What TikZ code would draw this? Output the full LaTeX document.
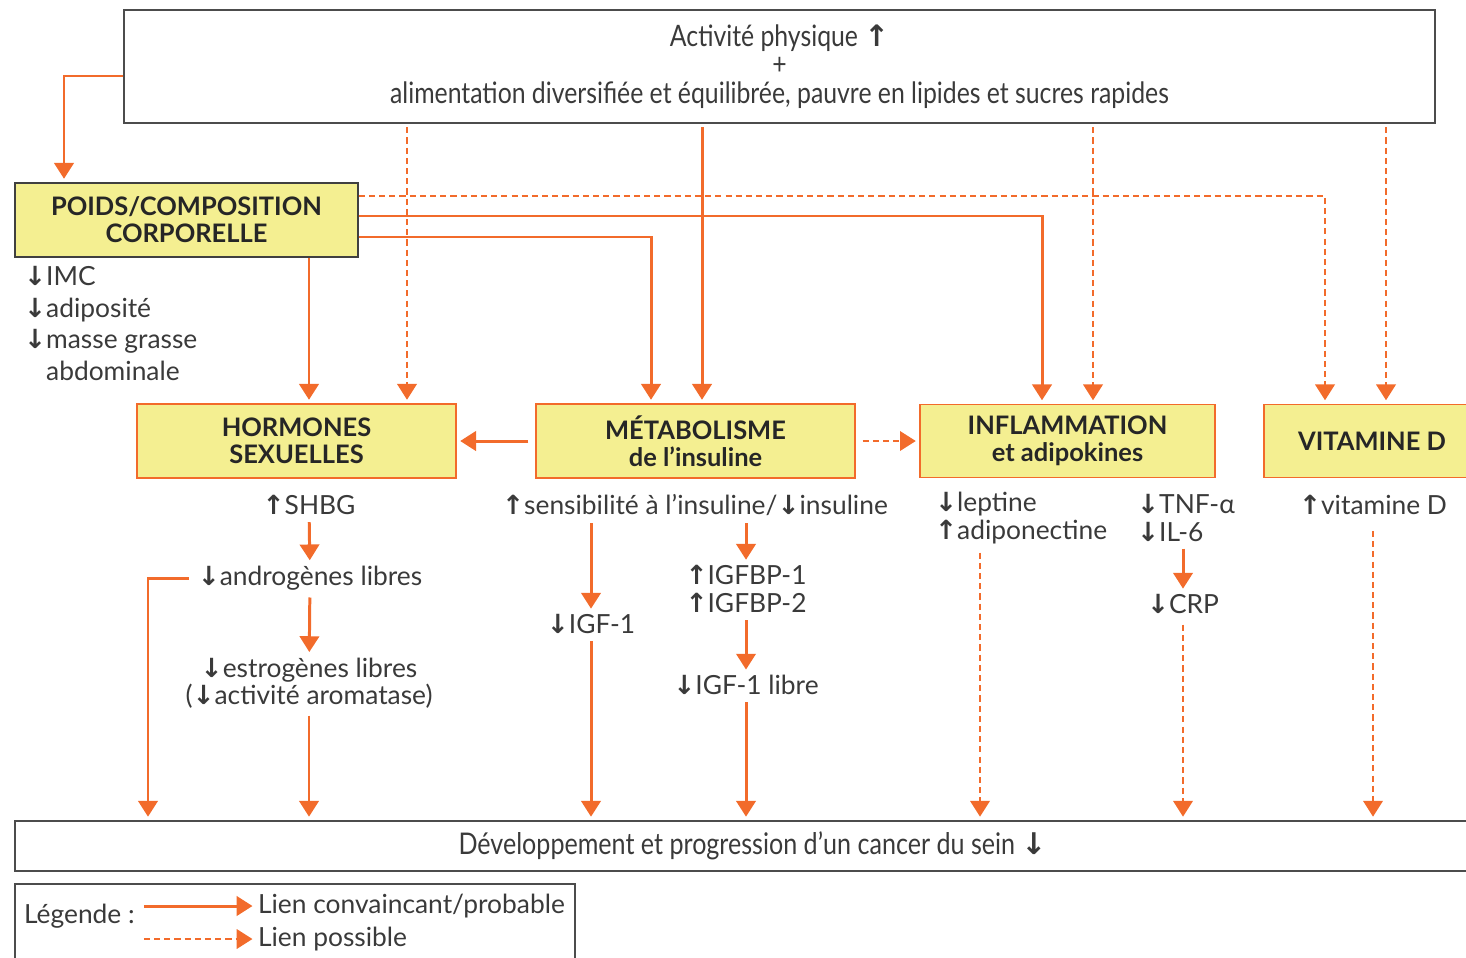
\documentclass[tikz,border=0pt]{standalone}
\usepackage{fontspec}
\setmainfont{Lato}
\newfontfamily\arrowfont{DejaVu Sans}
\newfontfamily\narrowfont[FakeStretch=0.84]{Lato}
\usetikzlibrary{arrows.meta}

\definecolor{lienorange}{HTML}{F26B2B}
\definecolor{boxjaune}{HTML}{F4EF91}
\definecolor{texte}{HTML}{3A3A3A}

\newcommand\hausse{{\arrowfont\bfseries ↑}}
\newcommand\baisse{{\arrowfont\bfseries ↓}}

\tikzset{
  link/.style={draw=lienorange, line width=1.7pt, -{Triangle[width=11pt,length=9pt]}, shorten >=2pt},
  maybe/.style={link, line width=1.5pt, dash pattern=on 3.5pt off 2.3pt},
  facteur/.style={draw=lienorange, fill=boxjaune, line width=0.8pt, font=\fontsize{14.5}{15.3}\selectfont\bfseries, text=black!85, align=center, inner sep=0pt},
  cadre/.style={draw=black!70, line width=0.9pt, inner sep=0pt, align=center, text=texte},
  effet/.style={text=texte, inner sep=1pt, align=center},
}

\begin{document}
\begin{tikzpicture}[x=0.02cm, y=-0.02cm, font=\fontsize{15}{17}\selectfont]
\useasboundingbox (0,0) rectangle (1466,957);

% boxes
\node[cadre, minimum width=26.22cm, minimum height=2.26cm, font=\narrowfont\fontsize{16.8}{16.2}\selectfont] (top) at (779.5,66.5)
  {Activité physique \hausse\\+\\alimentation diversifiée et équilibrée, pauvre en lipides et sucres rapides};

\node[facteur, draw=black!75, minimum width=6.86cm, minimum height=1.48cm] (poids) at (186.5,220) {POIDS/COMPOSITION\\CORPORELLE};

\node[facteur, minimum width=6.38cm, minimum height=1.48cm] (horm) at (296.5,441) {HORMONES\\SEXUELLES};
\node[facteur, minimum width=6.38cm, minimum height=1.48cm] (meta) at (695.5,441) {MÉTABOLISME\\de l’insuline};
\node[facteur, minimum width=5.9cm, minimum height=1.46cm] (infl) at (1067.5,441) {INFLAMMATION\\et adipokines};
\node[facteur, minimum width=4.32cm, minimum height=1.46cm] (vitd) at (1372,441) {VITAMINE D};

\node[cadre, minimum width=29.5cm, minimum height=1cm, font=\narrowfont\fontsize{17}{17}\selectfont] (cancer) at (752.5,846)
  {Développement et progression d’un cancer du sein \baisse};

% poids
\node[effet, align=left, anchor=north west, font=\fontsize{15}{18.1}\selectfont] (imc) at (22,264)
  {\baisse IMC\\\baisse adiposité\\\baisse masse grasse\\\phantom{\baisse}abdominale};

\coordinate (k0) at (64,76);
\draw[link] (top.west |- k0) -| (poids.north -| k0);

\coordinate (c1) at (309,0);
\draw[link] (poids.south -| c1) -- (horm.north -| c1);

\coordinate (b3) at (651,237);
\coordinate (b2) at (1042,216);
\coordinate (b1) at (1325,196);
\draw[link] (poids.east |- b3) -| (meta.north -| b3);
\draw[link] (poids.east |- b2) -| (infl.north -| b2);
\draw[maybe] (poids.east |- b1) -| (vitd.north -| b1);

% from the top box
\foreach \x/\tgt/\sty in {407/horm/maybe, 702/meta/link, 1093/infl/maybe, 1386/vitd/maybe}
{
  \coordinate (t) at (\x,0);
  \draw[\sty, shorten <=2pt] (top.south -| t) -- (\tgt.north -| t);
}

\draw[link, shorten <=4pt] (meta.west) -- (horm.east);
\draw[maybe, shorten <=4pt] (meta.east) -- (infl.west);

% hormones
\node[effet] (shbg) at (309,505) {\hausse SHBG};
\node[effet] (andro) at (310,578) {\baisse androgènes libres};
\node[effet, font=\fontsize{15}{15.6}\selectfont] (estro) at (309,683) {\baisse estrogènes libres\\(\baisse activité aromatase)};
\draw[link, shorten <=3pt] (shbg) -- (andro);
\draw[link, shorten <=3pt] (andro) -- (estro);
\draw[link, shorten <=3pt] (estro) -- (estro |- cancer.north);
\coordinate (g1) at (148,578);
\draw[link, shorten <=4pt] (andro.west) -- (g1) -- (g1 |- cancer.north);

% insuline
\node[effet] (sensib) at (695,505) {\hausse sensibilité à l’insuline/\baisse insuline};
\node[effet] (igf) at (591,624) {\baisse IGF-1};
\node[effet, font=\fontsize{15}{15.8}\selectfont] (igfbp) at (746,589) {\hausse IGFBP-1\\\hausse IGFBP-2};
\node[effet] (igflib) at (746,685) {\baisse IGF-1 libre};
\draw[link, shorten <=3pt] (sensib.south -| igf) -- (igf);
\draw[link, shorten <=3pt] (sensib.south -| igfbp) -- (igfbp);
\draw[link, shorten <=3pt] (igfbp) -- (igflib);
\draw[link, shorten <=3pt] (igf) -- (igf |- cancer.north);
\draw[link, shorten <=3pt] (igflib) -- (igflib |- cancer.north);

% inflammation
\node[effet, align=left, anchor=west, font=\fontsize{15}{15.5}\selectfont] (lept) at (933,518) {\baisse leptine\\\hausse adiponectine};
\node[effet, align=left, anchor=west, font=\fontsize{15}{15.5}\selectfont] (tnf) at (1135,518) {\baisse TNF-α\\\baisse IL-6};
\node[effet] (crp) at (1183,604) {\baisse CRP};
\coordinate (l1) at (980,0);
\draw[maybe, shorten <=4pt] (lept.south -| l1) -- (l1 |- cancer.north);
\draw[link, shorten <=3pt] (tnf.south -| crp) -- (crp);
\draw[maybe, shorten <=5pt] (crp) -- (crp |- cancer.north);

% vitamine D
\node[effet] (vitlab) at (1373,505) {\hausse vitamine D};
\draw[maybe, shorten <=8pt] (vitlab) -- (vitlab |- cancer.north);

% legende
\node[cadre, minimum width=11.2cm, minimum height=1.92cm] (legende) at (295,932) {};
\node[effet, anchor=west] (legtitre) at (22,916) {Légende :};
\node[effet, anchor=west] (legsur) at (256,906) {Lien convaincant/probable};
\node[effet, anchor=west] (legpos) at (256,939) {Lien possible};
\draw[link, shorten <=4pt] (legtitre.east |- legsur) -- (legsur.west);
\draw[maybe, shorten <=4pt] (legtitre.east |- legpos) -- (legpos.west);

\end{tikzpicture}
\end{document}
